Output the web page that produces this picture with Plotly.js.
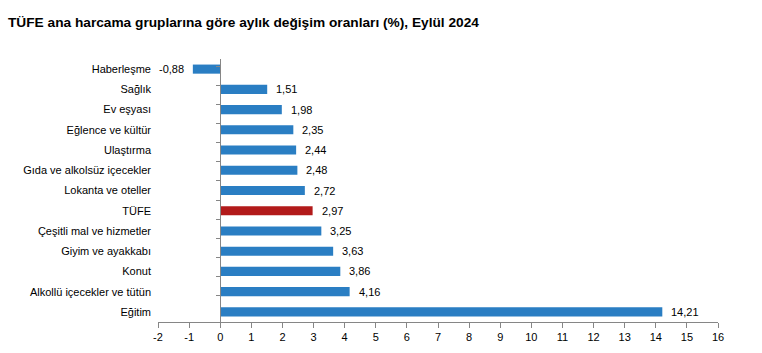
<!DOCTYPE html>
<html><head><meta charset="utf-8">
<script src="https://cdn.plot.ly/plotly-3.0.1.min.js"></script>
<style>html,body{margin:0;padding:0;background:#fff}</style>
</head><body>
<div id="chart" style="width:762px;height:353px"></div>
<script>
const categories = ["Haberleşme","Sağlık","Ev eşyası","Eğlence ve kültür","Ulaştırma","Gıda ve alkolsüz içecekler","Lokanta ve oteller","TÜFE","Çeşitli mal ve hizmetler","Giyim ve ayakkabı","Konut","Alkollü içecekler ve tütün","Eğitim"];
const values = [-0.88,1.51,1.98,2.35,2.44,2.48,2.72,2.97,3.25,3.63,3.86,4.16,14.21];
const tickValues = [-2,-1,0,1,2,3,4,5,6,7,8,9,10,11,12,13,14,15,16];
const blue = "#2A7EC3", red = "#B21A1A";
const colors = categories.map(c => c === "TÜFE" ? red : blue);
const font = {family: "Liberation Sans, Arial, sans-serif", size: 11, color: "#000"};

const bars = {
  type: "bar", orientation: "h", x: values, y: categories,
  marker: {color: colors}, width: 0.45,
  hoverinfo: "skip"
};
const ghost = {
  type: "scatter", mode: "markers", x: values, y: categories, yaxis: "y2",
  marker: {opacity: 0}, hoverinfo: "skip", showlegend: false
};
const annotations = values.map((v, i) => ({
  x: v, y: categories[i], xref: "x", yref: "y",
  text: v.toFixed(2).replace(".", ","),
  showarrow: false, xanchor: v < 0 ? "right" : "left",
  xshift: v < 0 ? -7 : 7, font: font
}));

const layout = {
  width: 762, height: 353,
  margin: {l: 158, r: 44, t: 59, b: 31},
  paper_bgcolor: "#fff", plot_bgcolor: "#fff",
  showlegend: false,
  font: font,
  title: {
    text: "TÜFE ana harcama gruplarına göre aylık değişim oranları (%), Eylül 2024",
    font: {family: "Liberation Sans, Arial, sans-serif", size: 13.7, color: "#000", weight: "bold"},
    xref: "container", yref: "container", x: 8/762, xanchor: "left", y: 1 - 22/353, yanchor: "middle"
  },
  xaxis: {
    range: [-2, 16], tickvals: tickValues, ticktext: tickValues.map(String),
    showgrid: false, zeroline: false, showline: true, linecolor: "#868686", linewidth: 1,
    ticks: "outside", ticklen: 5, tickcolor: "#868686", tickfont: font, fixedrange: true
  },
  yaxis: {
    type: "category", categoryorder: "array", categoryarray: categories,
    autorange: "reversed", showgrid: false, zeroline: false, showline: false,
    ticks: "", ticklabelstandoff: 6, tickfont: font
  },
  yaxis2: {
    type: "category", categoryorder: "array", categoryarray: categories,
    autorange: "reversed", overlaying: "y", anchor: "free", position: 2/18, side: "left",
    showgrid: false, zeroline: false, showline: true, linecolor: "#868686", linewidth: 1,
    ticks: "outside", tickson: "boundaries", ticklen: 4, tickcolor: "#868686",
    showticklabels: false
  },
  annotations: annotations
};
Plotly.newPlot("chart", [bars, ghost], layout, {displayModeBar: false, staticPlot: true});
</script>
</body></html>
